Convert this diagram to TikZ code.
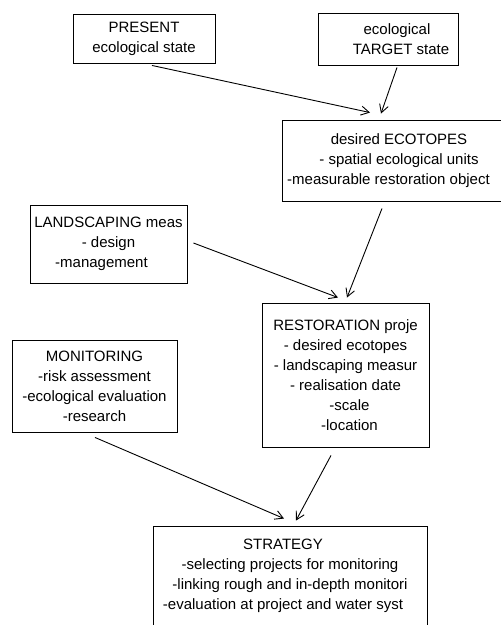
\documentclass[tikz,border=0pt]{standalone}
\usepackage{fontspec}
\setmainfont{Liberation Sans}
\usetikzlibrary{arrows.meta}

\tikzset{
  box/.style={draw=black, line width=0.9pt, align=center, inner sep=0pt,
    font=\fontsize{15}{20}\selectfont},
  flow/.style={line width=0.9pt, -{Straight Barb[length=8pt,width=9pt]}}
}

\begin{document}
\begin{tikzpicture}[x=1pt,y=-1pt]
\useasboundingbox (0,0) rectangle (501,625);
\clip (0,0) rectangle (501,625);
\node[box,minimum width=142pt,minimum height=49pt] (present) at (144,38.5) {PRESENT\\ecological state};
\node[box,minimum width=140pt,minimum height=52pt] (target) at (388,39) {\hspace*{18pt}ecological\\\hspace*{26pt}TARGET state};
\node[box,minimum width=234pt,minimum height=81pt] (ecotopes) at (399,160.5) {desired ECOTOPES\\- spatial ecological units\\-measurable restoration object\hspace*{21pt}};
\node[box,minimum width=157pt,minimum height=78pt] (landscaping) at (108.5,244) {LANDSCAPING meas\\- design\hspace*{16pt}\\-management\hspace*{14pt}};
\node[box,minimum width=167pt,minimum height=144pt] (restoration) at (345.5,375) {RESTORATION proje\\- desired ecotopes\\- landscaping measur\\- realisation date\\\hspace*{8pt}-scale\\\hspace*{8pt}-location};
\node[box,minimum width=165pt,minimum height=92pt] (monitoring) at (94.5,386) {MONITORING\\-risk assessment\\-ecological evaluation\\-research};
\node[box,minimum width=274pt,minimum height=100pt] (strategy) at (290,576) {STRATEGY\hspace*{14pt}\\-selecting projects for monitoring\hspace*{14pt}\\-linking rough and in-depth monitori\hspace*{14pt}\\-evaluation at project and water syst\hspace*{14pt}};
\path [flow] ([xshift=8pt,yshift=-2pt]present.south) edge ([xshift=-29pt,yshift=7pt]ecotopes.north);
\path [flow] ([xshift=9pt,yshift=-2pt]target.south) edge ([xshift=-18pt,yshift=6pt]ecotopes.north);
\path [flow] ([xshift=-17pt,yshift=-7pt]ecotopes.south) edge ([xshift=1.5pt,yshift=5pt]restoration.north);
\path [flow] ([xshift=6pt,yshift=1pt]landscaping.east) edge ([xshift=-7.5pt,yshift=5pt]restoration.north);
\path [flow] ([xshift=0.5pt,yshift=-5pt]monitoring.south) edge ([xshift=-6pt,yshift=7pt]strategy.north);
\path [flow] ([xshift=-14.5pt,yshift=-8pt]restoration.south) edge ([xshift=6pt,yshift=5pt]strategy.north);
\end{tikzpicture}
\end{document}
